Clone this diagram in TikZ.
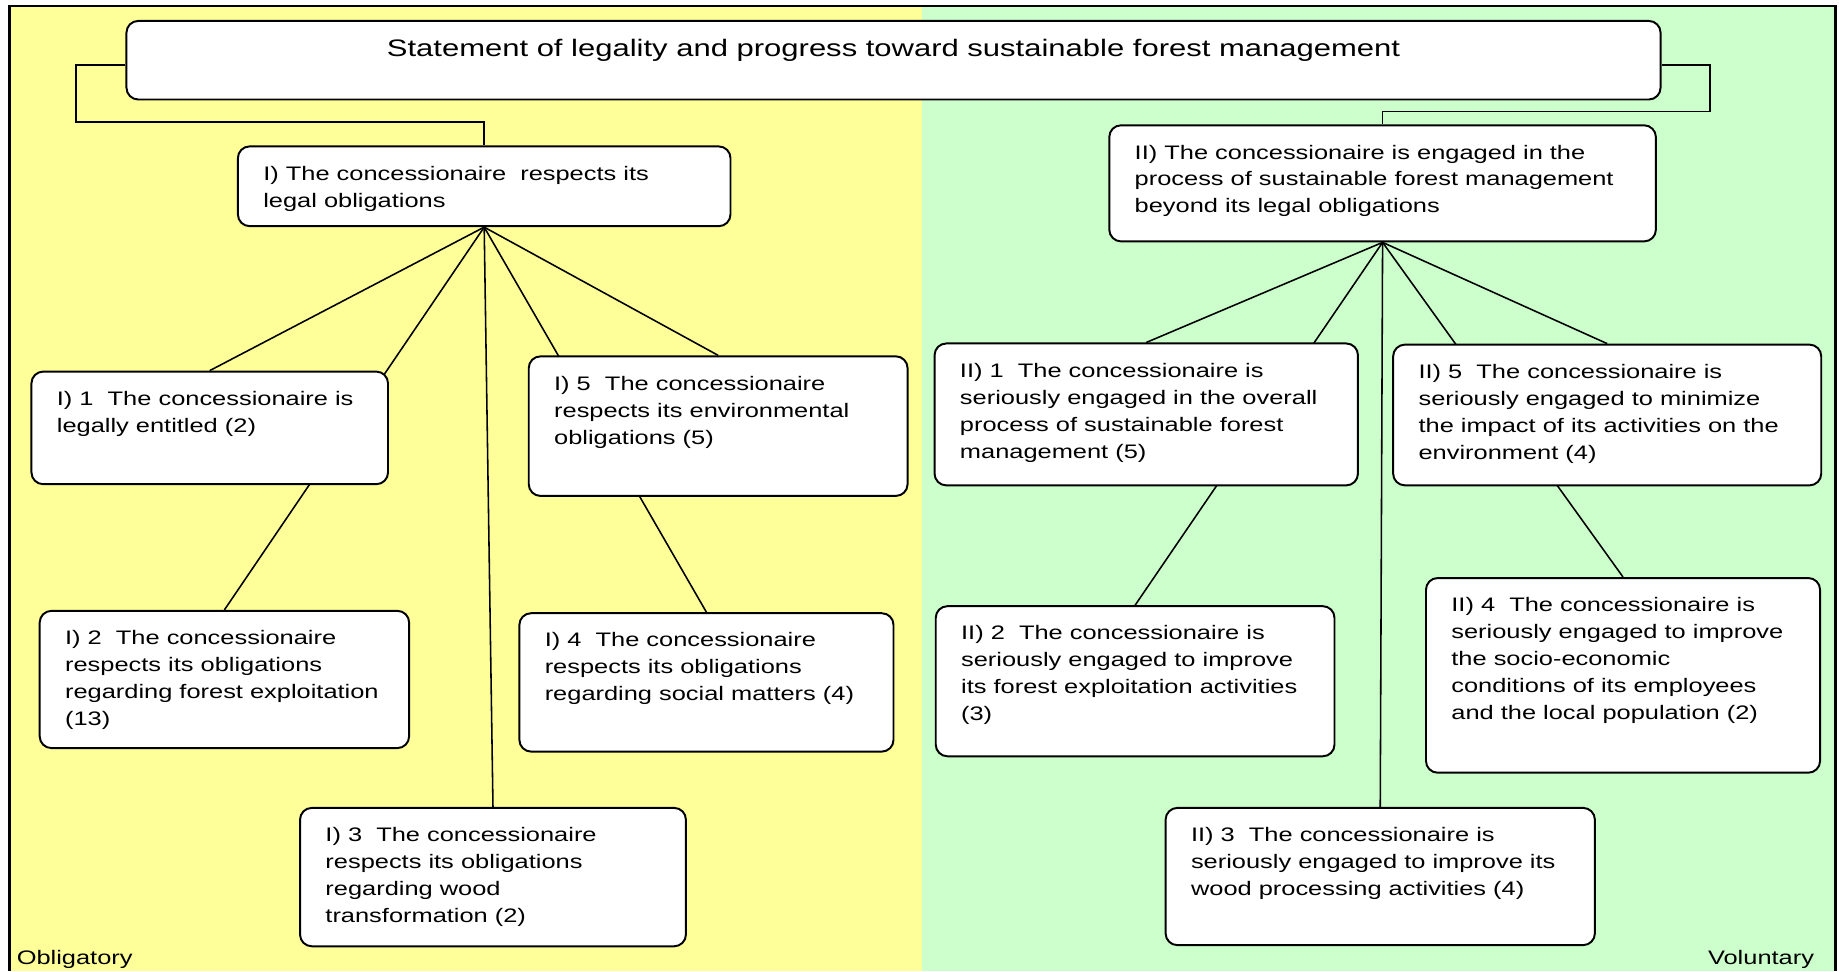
\documentclass[tikz,border=0pt]{standalone}
\usepackage{fontspec}
\setmainfont{Liberation Sans}[FakeStretch=1.3]
\usetikzlibrary{calc}
\newlength\px
\setlength\px{0.6pt}
\definecolor{obligyellow}{HTML}{FFFF99}
\definecolor{volgreen}{HTML}{CCFFCC}
\pgfdeclarelayer{paper}
\pgfdeclarelayer{links}
\pgfsetlayers{paper,links,main}
\def\cardtext#1#2#3{\begin{minipage}[t][#2\px][t]{#1\px}\raggedright\leftskip=13pt\rightskip=0pt plus 1fil\fontsize{10}{13.8}\selectfont\vspace*{10pt}#3\end{minipage}}
\def\headtext#1#2#3{\begin{minipage}[t][#2\px][t]{#1\px}\centering\fontsize{12.2}{14}\selectfont\vspace*{9.5pt}#3\end{minipage}}
\tikzset{
	card/.style={draw, line width=1pt, fill=white, rounded corners=6pt, inner sep=0pt, anchor=north west},
	link/.style={line width=0.8pt},
	tag/.style={font=\fontsize{10}{12}\selectfont, inner sep=0pt}
}

\begin{document}
\begin{tikzpicture}[x=0.6pt, y=-0.6pt]
			%%%%% START %%%%%
			\useasboundingbox (0,0) rectangle (1568,828);
			
			\node[card] (title) at (107,17) {\headtext{1308}{67}{Statement of legality and progress toward sustainable forest management}};
			
			\node[card] (i0) at (202,124) {\cardtext{420}{68}{I) The concessionaire\ \ respects its\\legal obligations}};
			\node[card] (ii0) at (945,106) {\cardtext{466}{99}{II) The concessionaire is engaged in the\\process of sustainable forest management\\beyond its legal obligations}};
			
			% obligatory side
			\node[card] (i1) at (26,316) {\cardtext{304}{96}{I) 1\ \ The concessionaire is\\legally entitled (2)}};
			\node[card] (i2) at (33,520) {\cardtext{315}{117}{I) 2\ \ The concessionaire\\respects its obligations\\regarding forest exploitation\\(13)}};
			\node[card] (i3) at (255,688) {\cardtext{329}{118}{I) 3\ \ The concessionaire\\respects its obligations\\regarding wood\\transformation (2)}};
			\node[card] (i4) at (442,522) {\cardtext{319}{118}{I) 4\ \ The concessionaire\\respects its obligations\\regarding social matters (4)}};
			\node[card] (i5) at (450,303) {\cardtext{323}{119}{I) 5\ \ The concessionaire\\respects its environmental\\obligations (5)}};
			
			% voluntary side
			\node[card] (ii1) at (796,292) {\cardtext{361}{121}{II) 1\ \ The concessionaire is\\seriously engaged in the overall\\process of sustainable forest\\management (5)}};
			\node[card] (ii2) at (797,516) {\cardtext{340}{128}{II) 2\ \ The concessionaire is\\seriously engaged to improve\\its forest exploitation activities\\(3)}};
			\node[card] (ii3) at (993,688) {\cardtext{366}{117}{II) 3\ \ The concessionaire is\\seriously engaged to improve its\\wood processing activities (4)}};
			\node[card] (ii4) at (1215,492) {\cardtext{336}{166}{II) 4\ \ The concessionaire is\\seriously engaged to improve\\the socio-economic\\conditions of its employees\\and the local population (2)}};
			\node[card] (ii5) at (1187,293) {\cardtext{365}{120}{II) 5\ \ The concessionaire is\\seriously engaged to minimize\\the impact of its activities on the\\environment (4)}};
			
			\node[tag, anchor=base west] (oblig) at (14,822) {Obligatory};
			\node[tag, anchor=base east] (volun) at (1547,822) {Voluntary};
			
			\coordinate (lbend) at (65,104);
			\coordinate (rbend) at (1458,95);
			
			\begin{pgfonlayer}{links}
				\draw[link] ([yshift=-2.5pt]title.west) -| (lbend) -| (i0.north);
				\draw[link] ([yshift=-2.5pt]title.east) -| (rbend) -| (ii0.north);
				\foreach \kid in {i1,i2,i3,i4,i5}
					\draw[link] (i0.south) -- (\kid.north);
				\foreach \kid in {ii1,ii2,ii3,ii4,ii5}
					\draw[link] (ii0.south) -- (\kid.north);
			\end{pgfonlayer}
			
			\begin{pgfonlayer}{paper}
				\fill[obligyellow] (8,5) rectangle (786,828);
				\fill[volgreen] (786,5) rectangle (1565,828);
				\draw[line width=1.2pt] (8,828) -- (8,5) -- (1565,5) -- (1565,828);
			\end{pgfonlayer}
			
			%%%%% END %%%%%
\end{tikzpicture}
\end{document}
